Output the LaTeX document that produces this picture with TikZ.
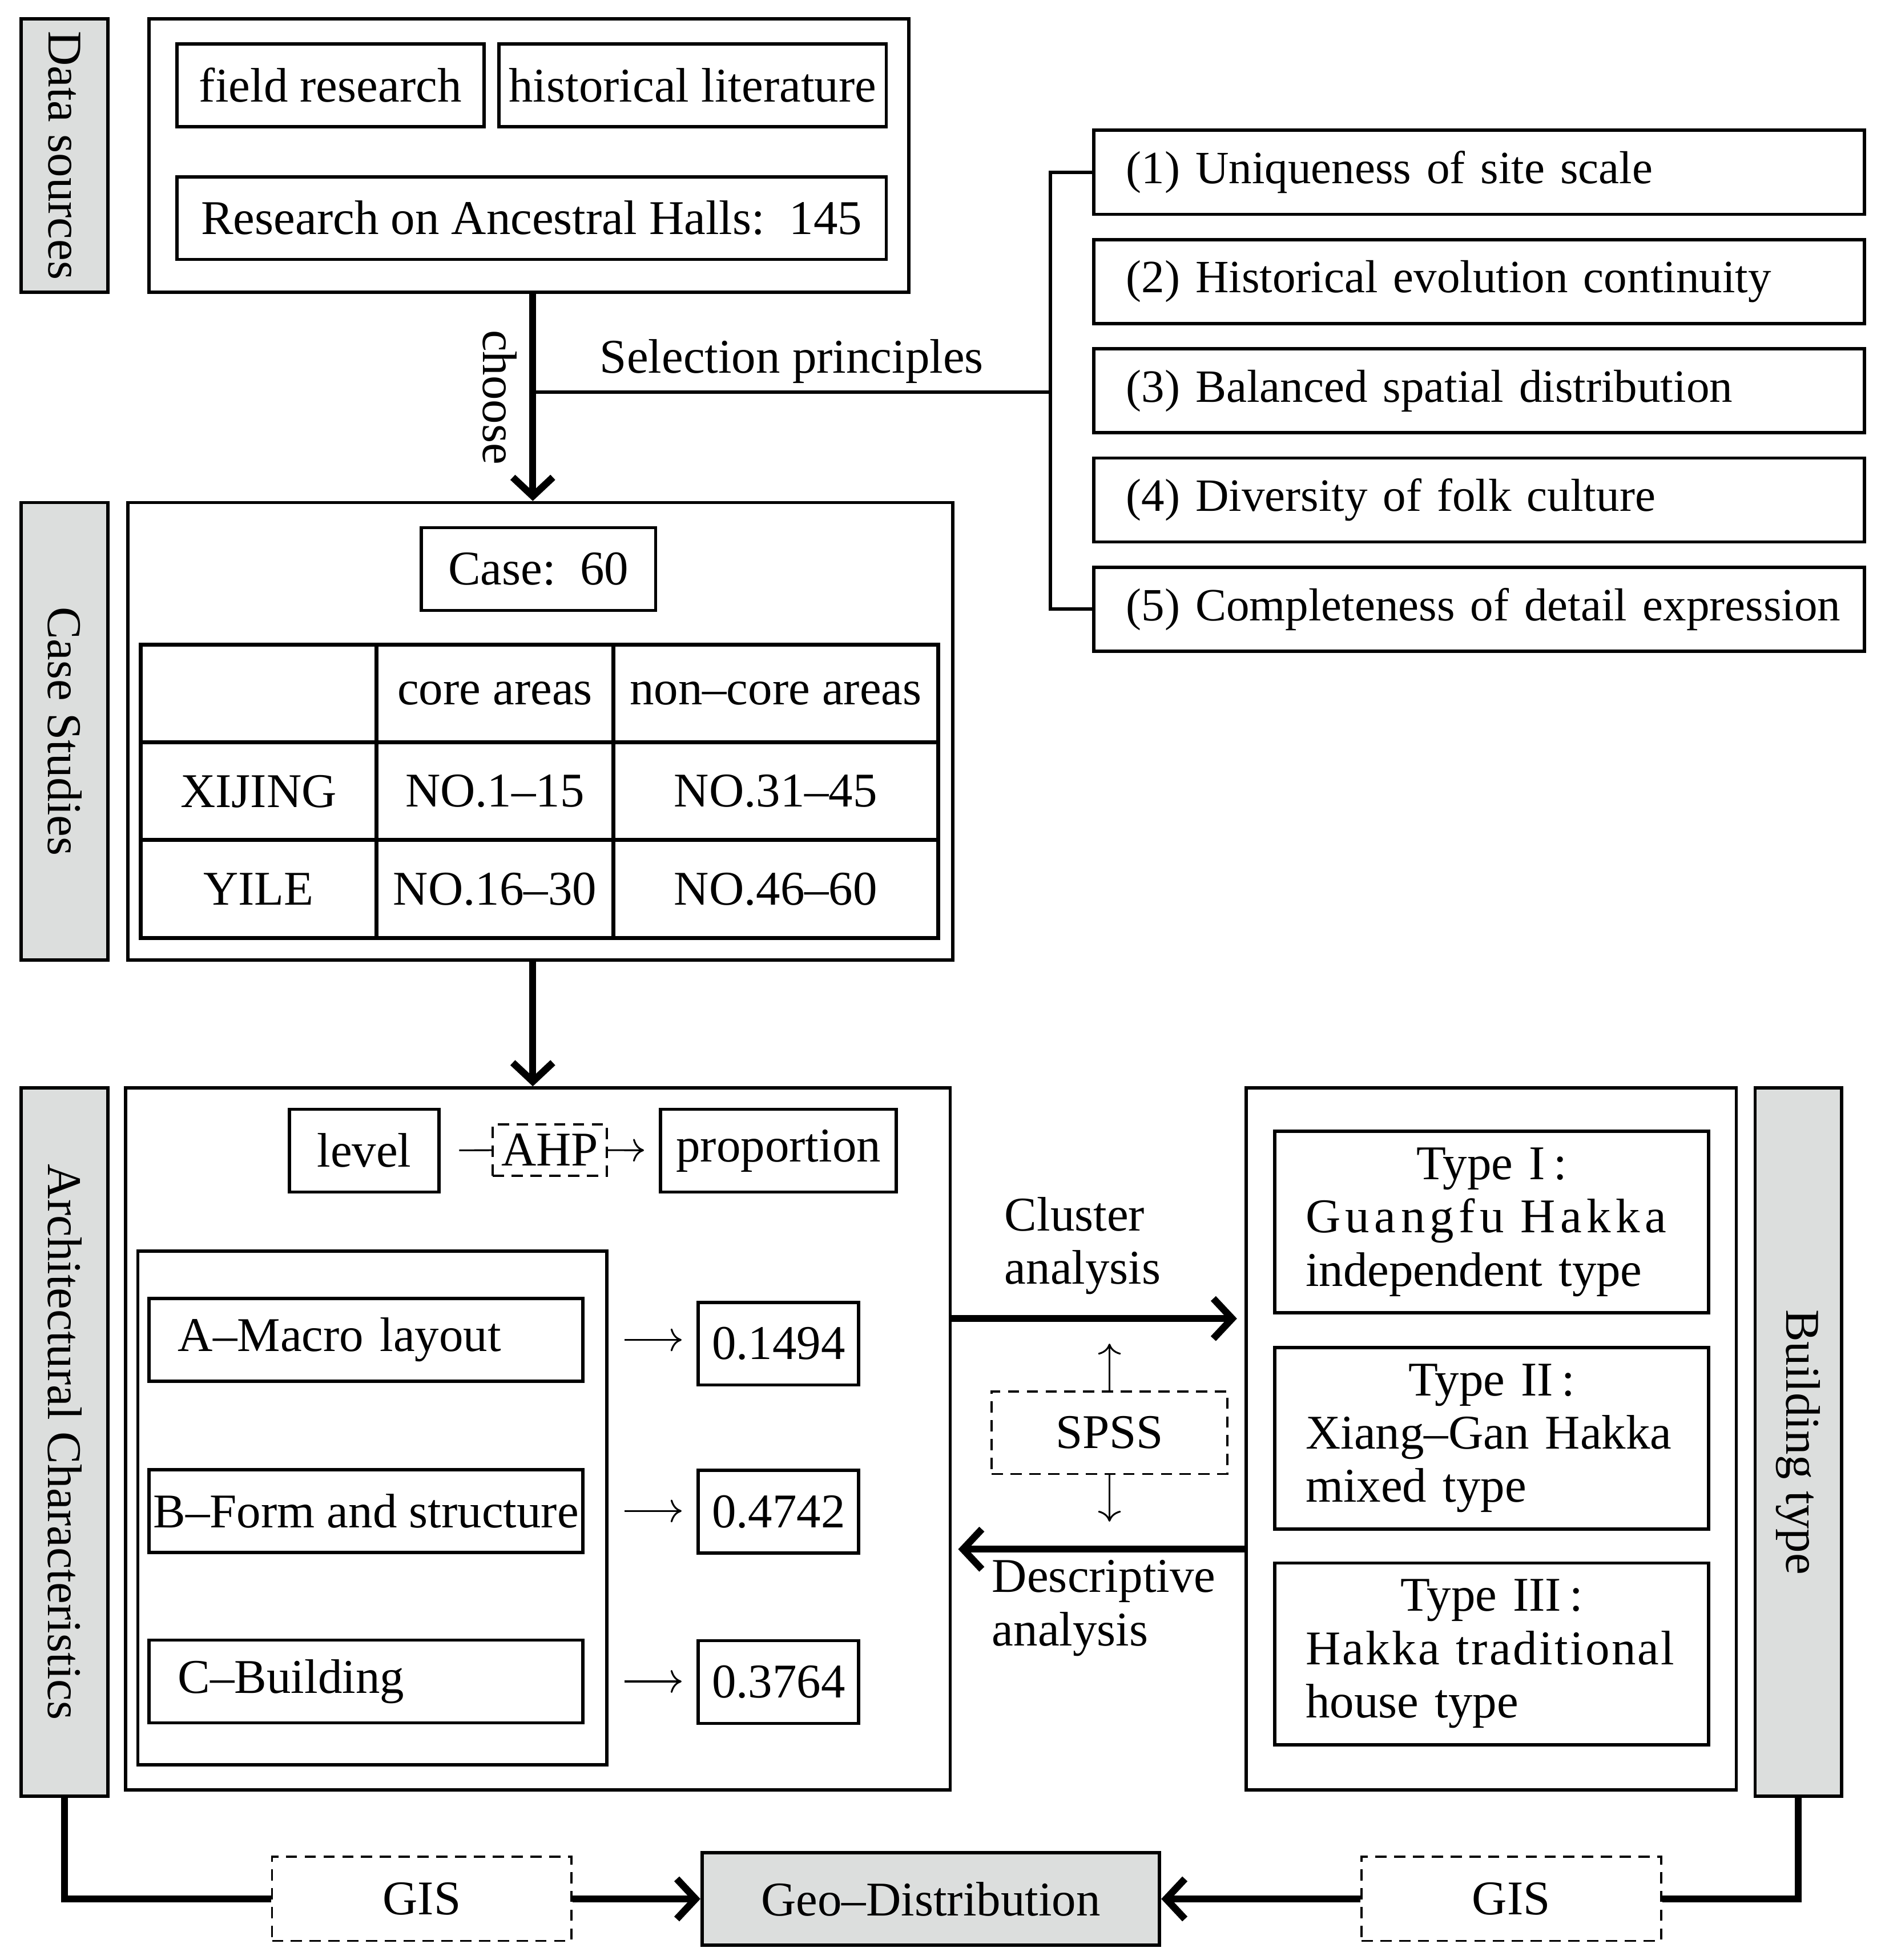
\documentclass[tikz,border=0pt]{standalone}
\usepackage{fontspec}
\setmainfont{Liberation Serif}
\usepackage{graphicx}
\usetikzlibrary{arrows.meta, positioning, calc, matrix}
\definecolor{labelgray}{RGB}{220,222,221}

\begin{document}
\begin{tikzpicture}[x=0.1mm, y=-0.1mm, font=\fontsize{11}{12.1}\selectfont]
\tikzstyle{box}=[draw, line width=0.75pt, inner sep=0pt, minimum height=6.6mm]
\tikzstyle{panel}=[draw, line width=0.75pt, inner sep=0pt]
\tikzstyle{tag}=[draw, line width=0.75pt, fill=labelgray, minimum width=6.9mm, inner sep=0pt]
\tikzstyle{dashbox}=[draw, line width=0.5pt, dash pattern=on 0.9mm off 0.6mm, inner sep=0pt]
\tikzstyle{principle}=[box, minimum height=6.7mm, text width=56.3mm, inner xsep=2.6mm, align=left, font=\fontsize{10.5}{12}\selectfont]
\tikzstyle{factor}=[box, minimum width=34.6mm, text width=30mm, inner xsep=2.3mm, align=left]
\tikzstyle{weight}=[box, minimum width=12.8mm]
\tikzstyle{kind}=[box, minimum width=34.6mm, minimum height=14.5mm, text width=29.7mm, align=left]
\tikzstyle{heavy}=[line width=1.6pt, -{Straight Barb[length=1.5mm, width=3.2mm]}]
\tikzstyle{light}=[line width=0.4pt, ->]

\useasboundingbox (0,0) rectangle (1500,1563.75);

% data sources
\node[tag, minimum height=21.8mm] (dstag) at (51.5,124) {\rotatebox{-90}{Data sources}};
\node[panel, minimum width=60.6mm, minimum height=21.8mm] (ds) at (422,124) {};
\node[box, minimum width=24.5mm] (field) at (263.5,68) {field research};
\node[box, minimum width=30.9mm] (hist) at (552.5,68) {historical literature};
\node[box, minimum width=56.6mm] (halls) at (424,174) {Research on Ancestral Halls:\hspace{0.5em}145};

% selection principles
\node[principle, anchor=west] (p1) at (871,137.5) {\mbox{(1) Uniqueness of site scale}};
\node[principle, below=1.75mm of p1] (p2) {\mbox{(2) Historical evolution continuity}};
\node[principle, below=1.75mm of p2] (p3) {\mbox{(3) Balanced spatial distribution}};
\node[principle, below=1.75mm of p3] (p4) {\mbox{(4) Diversity of folk culture}};
\node[principle, below=1.75mm of p4] (p5) {\mbox{(5) Completeness of detail expression}};

% case studies
\node[tag, minimum height=36.5mm] (cstag) at (51.5,583.5) {\rotatebox{-90}{Case Studies}};
\node[panel, minimum width=65.8mm, minimum height=36.5mm] (cs) at (431,583.5) {};
\node[box, minimum width=18.7mm] (case) at (429.5,454) {Case:\hspace{0.5em}60};
\matrix (tab) [matrix of nodes, anchor=north west, inner sep=0pt, nodes in empty cells,
  nodes={draw, line width=0.9pt, minimum height=7.8mm, inner sep=0pt, anchor=center},
  column 1/.style={nodes={minimum width=18.8mm}},
  column 2/.style={nodes={minimum width=18.9mm}},
  column 3/.style={nodes={minimum width=25.9mm}},
  column sep=-0.9pt, row sep=-0.9pt] at (110,512) {
  & core areas & non–core areas \\
  XIJING & NO.1–15 & NO.31–45 \\
  YILE & NO.16–30 & NO.46–60 \\
};

% architectural characteristics
\node[tag, minimum height=56.5mm] (actag) at (51.5,1150.5) {\rotatebox{-90}{Architectural Characteristics}};
\node[panel, minimum width=65.8mm, minimum height=56mm] (ac) at (429,1148) {};
\node[box, minimum width=11.9mm] (level) at (290.5,918) {level};
\node[dashbox, minimum width=9.1mm, minimum height=4.1mm] (ahp) at (438.5,917.5) {AHP};
\node[box, minimum width=18.8mm] (prop) at (621,918) {proportion};
\node[panel, minimum width=37.4mm, minimum height=41mm] (group) at (297,1203) {};
\node[factor] (fa) at (292,1069) {A–Macro layout};
\node[box, minimum width=34.6mm] (fb) at (292,1205.5) {B–Form and structure};
\node[factor] (fc) at (292,1341.5) {C–Building};
\node[weight] (wa) at (621,1072) {0.1494};
\node[weight] (wb) at (621,1206) {0.4742};
\node[weight] (wc) at (621,1342) {0.3764};

% analysis between the panels
\node[dashbox, minimum width=18.8mm, minimum height=6.6mm] (spss) at (885,1143) {SPSS};
\coordinate (spssup) at (885,1072);
\coordinate (spssdn) at (885,1214);
\coordinate (clu) at (0,1052);
\coordinate (des) at (0,1236);
\node[anchor=west, align=left] (clulab) at (789,994) {Cluster\\analysis};
\node[anchor=west, align=left] (deslab) at (779,1283) {Descriptive\\analysis};

% building type
\node[tag, minimum height=56.5mm] (bttag) at (1434.5,1150.5) {\rotatebox{-90}{Building type}};
\node[panel, minimum width=39.1mm, minimum height=56mm] (bt) at (1189.5,1148) {};
\node[kind] (t1) at (1190,975) {\makebox[29.7mm]{Type I\,:}\\ \makebox[29.7mm][s]{\addfontfeature{LetterSpace=10}Guangfu Hakka}\\ independent type};
\node[kind] (t2) at (1190,1147.5) {\makebox[29.7mm]{Type II\,:}\\ \makebox[29.7mm][s]{Xiang–Gan Hakka}\\ mixed type};
\node[kind] (t3) at (1190,1319.5) {\makebox[29.7mm]{Type III\,:}\\ \makebox[29.7mm][s]{\addfontfeature{LetterSpace=4}Hakka traditional}\\ house type};

% geo-distribution
\node[box, fill=labelgray, minimum width=36.5mm, minimum height=7.4mm] (geo) at (742.5,1515) {Geo–Distribution};
\node[dashbox, fill=white, minimum width=23.9mm, minimum height=6.7mm] (gisl) at (336.5,1515) {GIS};
\node[dashbox, fill=white, minimum width=23.9mm, minimum height=6.7mm] (gisr) at (1205.5,1515) {GIS};

% connectors
\coordinate (spine) at (425,0);
\coordinate (fork) at (425,313);
\coordinate (bracket) at (838,313);
\draw[heavy] (ds.south -| spine) -- node[midway, rotate=-90, anchor=north, inner sep=1mm] {choose} (cs.north -| spine);
\draw[line width=0.75pt] (fork) -- node[above, inner sep=0.6mm] {Selection principles} (bracket);
\draw[line width=0.75pt] (p1.west) -| (bracket) |- (p5.west);
\draw[heavy] (cs.south -| spine) -- (ac.north -| spine);

\draw[line width=0.4pt, shorten <=1.5mm] (level) -- (ahp);
\draw[light, shorten >=1.2mm] (ahp) -- (prop);
\draw[light, shorten <=3.2mm, shorten >=1.2mm] (fa.east) -- (fa.east -| wa.west);
\draw[light, shorten <=3.2mm, shorten >=1.2mm] (fb.east) -- (fb.east -| wb.west);
\draw[light, shorten <=3.2mm, shorten >=1.2mm] (fc.east) -- (fc.east -| wc.west);

\draw[heavy, shorten >=0.6mm] (ac.east |- clu) -- (bt.west |- clu);
\draw[heavy, shorten >=0.5mm] (bt.west |- des) -- (ac.east |- des);
\draw[light] (spss.north) -- (spssup);
\draw[light] (spss.south) -- (spssdn);

\draw[line width=1.6pt] (actag.south) |- (gisl.west);
\draw[heavy] (gisl) -- (geo);
\draw[line width=1.6pt] (bttag.south) |- (gisr.east);
\draw[heavy] (gisr) -- (geo);
\end{tikzpicture}
\end{document}
